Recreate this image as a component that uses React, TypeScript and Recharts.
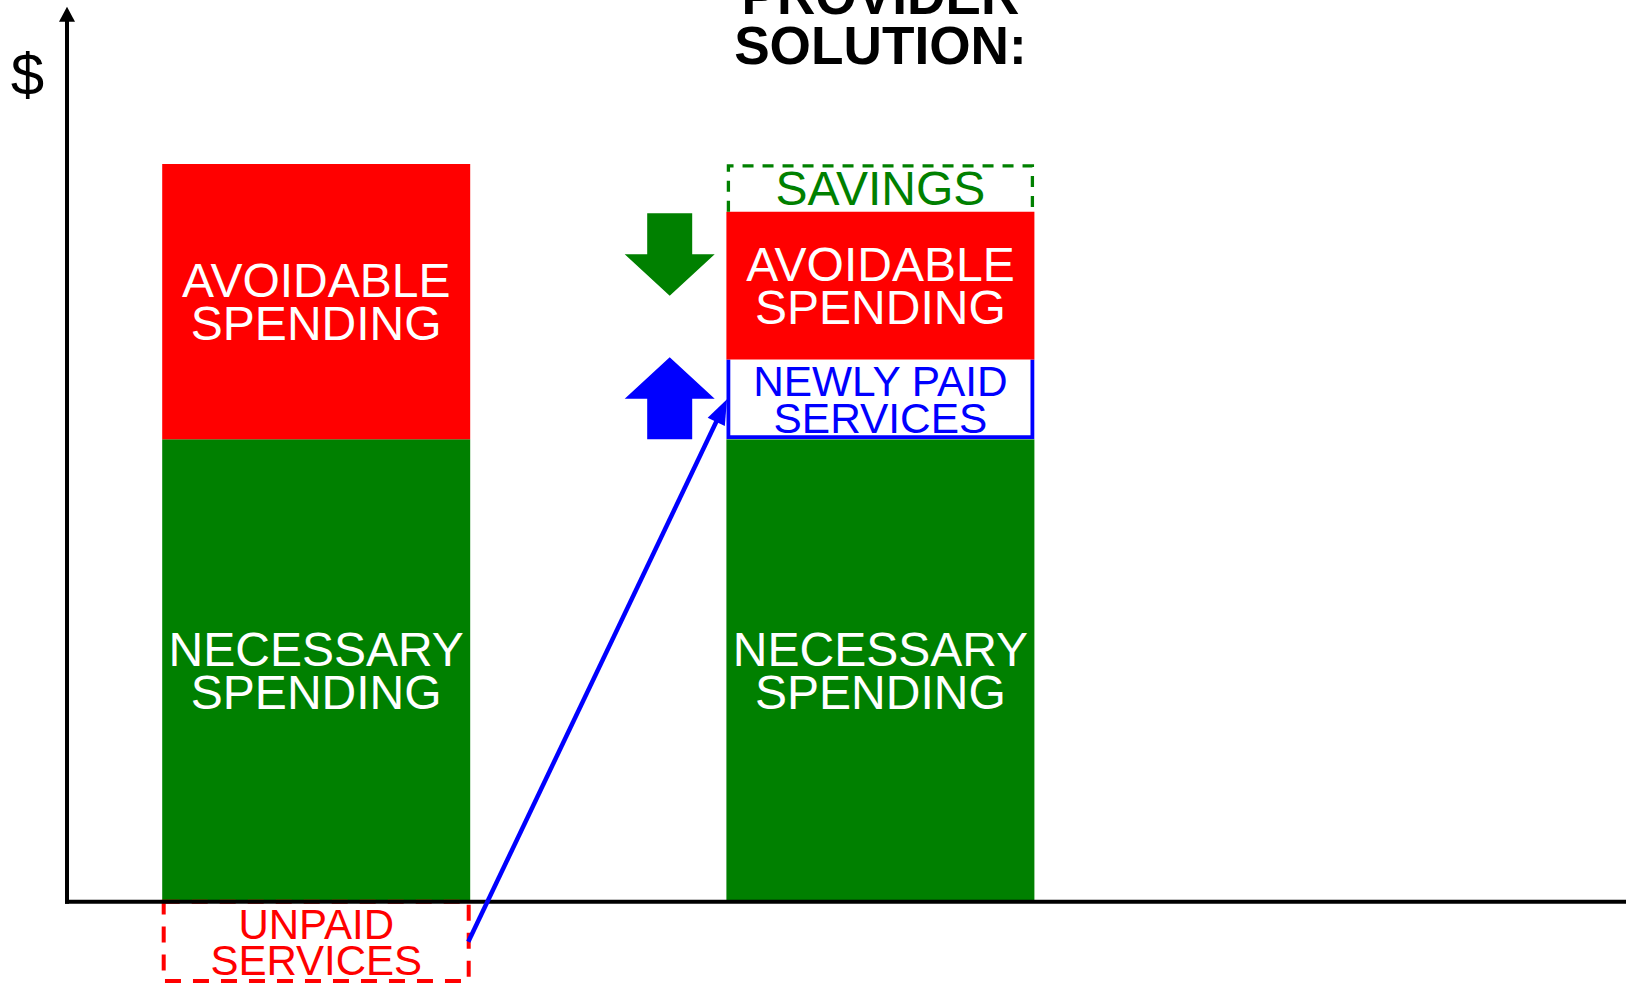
import React from 'react';
import { BarChart, Bar, XAxis, YAxis, ReferenceLine, LabelList } from 'recharts';

// ---------- data ----------
const categories = ['Current', 'Provider solution'];
const necessary = [58, 58];
const newlyPaid = [0, 10];
const avoidable = [34.5, 18.5];
const savings = [0, 6];
const unpaid = [-10, 0];

const titleLines: string[][] = [[], ['PROVIDER', 'SOLUTION:']];
const necessaryText = ['NECESSARY', 'SPENDING'];
const avoidableText = ['AVOIDABLE', 'SPENDING'];
const newlyPaidText = ['NEWLY PAID', 'SERVICES'];
const savingsText = ['SAVINGS'];
const unpaidText = ['UNPAID', 'SERVICES'];
const yAxisLabel = '$';

const yDomain: [number, number] = [-10.3, 112.55];
const yAxisTop = 112.2;

const data = categories.map((name, i) => ({
  name,
  necessary: necessary[i],
  newlyPaid: newlyPaid[i],
  avoidable: avoidable[i],
  savings: savings[i],
  unpaid: unpaid[i],
}));

// ---------- styles ----------
const W = 1626;
const H = 984;
const BAR = 308;
const FONT = '"Liberation Sans", Arial, Helvetica, sans-serif';
const RED = '#ff0000';
const GREEN = '#008000';
const BLUE = '#0000ff';
const ARROW_OFFSET = 56.7; // distance from bar edge to the side arrows' centre

const rectOf = (p: any) => {
  const v = p && p.viewBox && typeof p.viewBox.width === 'number' ? p.viewBox : p;
  let x = Number(v.x), y = Number(v.y), width = Number(v.width), height = Number(v.height);
  if (width < 0) { x += width; width = -width; }
  if (height < 0) { y += height; height = -height; }
  return { x, y, width, height };
};

const segmentLabel = (lines: string[], color: string, fontSize: number, gap: number) => (p: any) => {
  const r = rectOf(p);
  if (!(r.height > 1)) return null;
  const cx = r.x + r.width / 2;
  const cy = r.y + r.height / 2;
  const cap = fontSize * 0.716;
  const first = cy - (gap * (lines.length - 1)) / 2 + cap / 2;
  return (
    <g>
      {lines.map((t, i) => (
        <text key={i} x={cx} y={first + i * gap} textAnchor="middle" fill={color}
          fontSize={fontSize} fontFamily={FONT}>{t}</text>
      ))}
    </g>
  );
};

const titleLabel = (p: any) => {
  const r = rectOf(p);
  if (!(r.height > 1)) return null;
  const idx = typeof p.index === 'number' ? p.index : 1;
  const lines = titleLines[idx] || [];
  if (!lines.length) return null;
  const cx = r.x + r.width / 2;
  return (
    <g>
      {lines.map((t, i) => (
        <text key={i} x={cx} y={r.y - 150 + i * 50} textAnchor="middle" fill="#000"
          fontSize={53.2} fontWeight="bold" fontFamily={FONT}>{t}</text>
      ))}
    </g>
  );
};

const SavingsShape = (p: any) => {
  const r = rectOf(p);
  if (!(r.height > 1)) return <g />;
  const i = 2;
  const d = `M${r.x + i},${r.y + r.height} L${r.x + i},${r.y + i} L${r.x + r.width - i},${r.y + i} L${r.x + r.width - i},${r.y + r.height}`;
  const cx = r.x - ARROW_OFFSET;
  const top = r.y + r.height + 1.5;
  const pts = [
    [cx - 22.5, top], [cx + 22.5, top], [cx + 22.5, top + 41], [cx + 45, top + 41],
    [cx, top + 82.5], [cx - 45, top + 41], [cx - 22.5, top + 41],
  ].map((q) => q.join(',')).join(' ');
  return (
    <g>
      <path d={d} fill="none" stroke={GREEN} strokeWidth={3.3} strokeDasharray="11 9" />
      <polygon points={pts} fill={GREEN} />
    </g>
  );
};

const NewlyPaidShape = (p: any) => {
  const r = rectOf(p);
  if (!(r.height > 1)) return <g />;
  const i = 2;
  const b = r.y + r.height;
  const d = `M${r.x + i},${r.y} L${r.x + i},${b - i} L${r.x + r.width - i},${b - i} L${r.x + r.width - i},${r.y}`;
  const cx = r.x - ARROW_OFFSET;
  const pts = [
    [cx - 22.5, b], [cx + 22.5, b], [cx + 22.5, b - 40.5], [cx + 45, b - 40.5],
    [cx, b - 82], [cx - 45, b - 40.5], [cx - 22.5, b - 40.5],
  ].map((q) => q.join(',')).join(' ');
  return (
    <g>
      <rect x={r.x} y={r.y} width={r.width} height={r.height} fill="#fff" />
      <path d={d} fill="none" stroke={BLUE} strokeWidth={3.8} />
      <polygon points={pts} fill={BLUE} />
    </g>
  );
};

const UnpaidShape = (p: any) => {
  const r = rectOf(p);
  if (!(r.height > 1)) return <g />;
  const i = 1.5;
  return (
    <rect x={r.x + i} y={r.y} width={r.width - 2 * i} height={r.height - 0.5}
      fill="#fff" stroke={RED} strokeWidth={4} strokeDasharray="16 12" />
  );
};

const YAxisShape = (p: any) => {
  const x = Number(p.x1);
  const bottom = Math.max(Number(p.y1), Number(p.y2));
  const tip = Math.min(Number(p.y1), Number(p.y2));
  return (
    <g>
      <line x1={x} y1={bottom + 2} x2={x} y2={tip + 12} stroke="#000" strokeWidth={4} />
      <polygon points={`${x},${tip} ${x - 8},${tip + 15} ${x + 8},${tip + 15}`} fill="#000" />
      <text x={x - 39.5} y={tip + 88} textAnchor="middle" fontSize={60} fontFamily={FONT} fill="#000">
        {yAxisLabel}
      </text>
    </g>
  );
};

const XAxisShape = (p: any) => {
  const y = Number(p.y1);
  const a = Math.min(Number(p.x1), Number(p.x2));
  const b = Math.max(Number(p.x1), Number(p.x2));
  return <line x1={a - 2} y1={y} x2={b} y2={y} stroke="#000" strokeWidth={4} />;
};

const ConnectorShape = (p: any) => {
  const sx = Number(p.x1) + BAR / 2 - 2;
  const sy = Number(p.y1);
  const ex = Number(p.x2) - BAR / 2 + 0.5;
  const ey = Number(p.y2);
  const dx = ex - sx, dy = ey - sy;
  const len = Math.sqrt(dx * dx + dy * dy) || 1;
  const ux = dx / len, uy = dy / len;
  const nx = -uy, ny = ux;
  const L = 25, hw = 9.5;
  const bx = ex - ux * L, by = ey - uy * L;
  return (
    <g>
      <line x1={sx} y1={sy} x2={bx + ux * 2} y2={by + uy * 2} stroke={BLUE} strokeWidth={4.5} />
      <polygon points={`${ex},${ey} ${bx + nx * hw},${by + ny * hw} ${bx - nx * hw},${by - ny * hw}`} fill={BLUE} />
    </g>
  );
};

export default function App() {
  return (
    <div style={{ position: 'absolute', left: 0, top: 0, width: W, height: H, background: '#fff', overflow: 'hidden' }}>
      <BarChart
        width={W}
        height={H}
        data={data}
        stackOffset="sign"
        barSize={BAR}
        margin={{ top: 4, right: 0, bottom: 0, left: 67 }}
      >
        <XAxis dataKey="name" hide padding={{ left: -32.8, right: 463.4 }} />
        <XAxis xAxisId="frame" type="number" domain={[0, 1]} hide />
        <YAxis hide type="number" domain={yDomain} allowDataOverflow />

        <Bar dataKey="necessary" stackId="s" fill={GREEN} isAnimationActive={false}>
          <LabelList dataKey="necessary" content={segmentLabel(necessaryText, '#fff', 48, 43)} />
        </Bar>
        <Bar dataKey="newlyPaid" stackId="s" fill="#fff" shape={NewlyPaidShape} isAnimationActive={false}>
          <LabelList dataKey="newlyPaid" content={segmentLabel(newlyPaidText, BLUE, 42.4, 36.5)} />
        </Bar>
        <Bar dataKey="avoidable" stackId="s" fill={RED} isAnimationActive={false}>
          <LabelList dataKey="avoidable" content={segmentLabel(avoidableText, '#fff', 48, 43)} />
        </Bar>
        <Bar dataKey="savings" stackId="s" fill="none" shape={SavingsShape} isAnimationActive={false}>
          <LabelList dataKey="savings" content={segmentLabel(savingsText, GREEN, 48, 0)} />
          <LabelList dataKey="savings" content={titleLabel} />
        </Bar>
        <Bar dataKey="unpaid" stackId="s" fill="none" shape={UnpaidShape} isAnimationActive={false}>
          <LabelList dataKey="unpaid" content={segmentLabel(unpaidText, RED, 42, 36)} />
        </Bar>

        <ReferenceLine y={0} shape={XAxisShape} ifOverflow="visible" />
        <ReferenceLine
          xAxisId="frame"
          segment={[{ x: 0, y: 0 }, { x: 0, y: yAxisTop }]}
          shape={YAxisShape}
          ifOverflow="visible"
        />
        <ReferenceLine
          segment={[
            { x: categories[0], y: unpaid[0] / 2 },
            { x: categories[1], y: necessary[1] + newlyPaid[1] / 2 },
          ]}
          shape={ConnectorShape}
          ifOverflow="visible"
        />
      </BarChart>
    </div>
  );
}
